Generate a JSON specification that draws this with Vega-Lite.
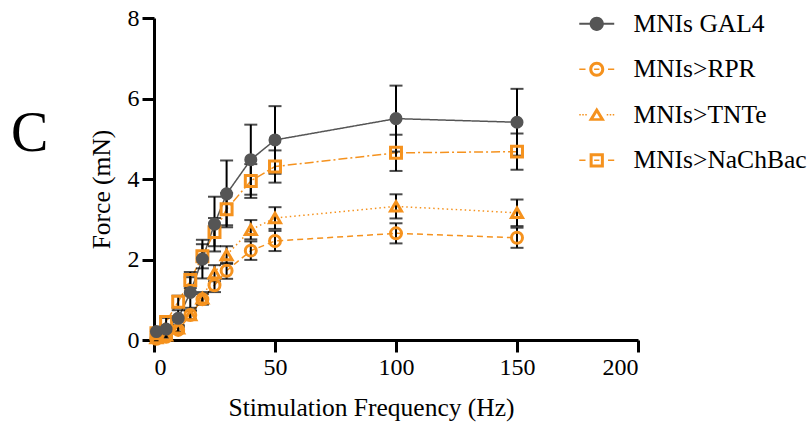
{
  "$schema": "https://vega.github.io/schema/vega-lite/v6.json",
  "autosize": "none",
  "width": 484,
  "height": 322,
  "padding": {"left": 154, "top": 18, "right": 173, "bottom": 87},
  "background": "white",
  "title": {"text": "C", "font": "Liberation Serif", "fontSize": 56, "fontWeight": "normal", "anchor": "start", "frame": "group", "offset": 0, "dx": -143, "dy": 201, "baseline": "alphabetic", "color": "black"},
  "config": {
    "font": "Liberation Serif",
    "view": {"stroke": null},
    "axis": {"domainColor": "black", "domainWidth": 3, "tickColor": "black", "tickWidth": 3, "tickSize": 12, "labelFont": "Liberation Serif", "labelFontSize": 24, "labelColor": "black", "titleFont": "Liberation Serif", "titleFontSize": 25.5, "titleFontWeight": "normal", "titleColor": "black", "grid": false, "labelPadding": 3},
    "legend": {"labelFont": "Liberation Serif", "labelFontSize": 25.5, "labelColor": "black", "labelLimit": 0}
  },
  "resolve": {"scale": {"shape": "independent", "fill": "independent"}},
  "data": {"values": [
    {"group": "MNIs>RPR", "hz": 1, "mean": 0.03, "lo": 0.01, "hi": 0.05},
    {"group": "MNIs>RPR", "hz": 5, "mean": 0.08, "lo": 0.05, "hi": 0.11},
    {"group": "MNIs>RPR", "hz": 10, "mean": 0.25, "lo": 0.19, "hi": 0.31},
    {"group": "MNIs>RPR", "hz": 15, "mean": 0.62, "lo": 0.52, "hi": 0.72},
    {"group": "MNIs>RPR", "hz": 20, "mean": 1.01, "lo": 0.88, "hi": 1.14},
    {"group": "MNIs>RPR", "hz": 25, "mean": 1.36, "lo": 1.19, "hi": 1.53},
    {"group": "MNIs>RPR", "hz": 30, "mean": 1.72, "lo": 1.52, "hi": 1.92},
    {"group": "MNIs>RPR", "hz": 40, "mean": 2.22, "lo": 1.99, "hi": 2.45},
    {"group": "MNIs>RPR", "hz": 50, "mean": 2.46, "lo": 2.21, "hi": 2.71},
    {"group": "MNIs>RPR", "hz": 100, "mean": 2.65, "lo": 2.40, "hi": 2.90},
    {"group": "MNIs>RPR", "hz": 150, "mean": 2.54, "lo": 2.29, "hi": 2.79},
    {"group": "MNIs>TNTe", "hz": 1, "mean": 0.05, "lo": 0.03, "hi": 0.07},
    {"group": "MNIs>TNTe", "hz": 5, "mean": 0.12, "lo": 0.08, "hi": 0.16},
    {"group": "MNIs>TNTe", "hz": 10, "mean": 0.29, "lo": 0.21, "hi": 0.37},
    {"group": "MNIs>TNTe", "hz": 15, "mean": 0.62, "lo": 0.50, "hi": 0.74},
    {"group": "MNIs>TNTe", "hz": 20, "mean": 1.04, "lo": 0.89, "hi": 1.19},
    {"group": "MNIs>TNTe", "hz": 25, "mean": 1.66, "lo": 1.46, "hi": 1.86},
    {"group": "MNIs>TNTe", "hz": 30, "mean": 2.11, "lo": 1.89, "hi": 2.33},
    {"group": "MNIs>TNTe", "hz": 40, "mean": 2.74, "lo": 2.50, "hi": 2.98},
    {"group": "MNIs>TNTe", "hz": 50, "mean": 3.03, "lo": 2.76, "hi": 3.30},
    {"group": "MNIs>TNTe", "hz": 100, "mean": 3.32, "lo": 3.02, "hi": 3.62},
    {"group": "MNIs>TNTe", "hz": 150, "mean": 3.16, "lo": 2.83, "hi": 3.49},
    {"group": "MNIs>NaChBac", "hz": 1, "mean": 0.17, "lo": 0.12, "hi": 0.22},
    {"group": "MNIs>NaChBac", "hz": 5, "mean": 0.45, "lo": 0.35, "hi": 0.55},
    {"group": "MNIs>NaChBac", "hz": 10, "mean": 0.95, "lo": 0.80, "hi": 1.10},
    {"group": "MNIs>NaChBac", "hz": 15, "mean": 1.49, "lo": 1.29, "hi": 1.69},
    {"group": "MNIs>NaChBac", "hz": 20, "mean": 2.08, "lo": 1.78, "hi": 2.38},
    {"group": "MNIs>NaChBac", "hz": 25, "mean": 2.68, "lo": 2.33, "hi": 3.03},
    {"group": "MNIs>NaChBac", "hz": 30, "mean": 3.25, "lo": 2.85, "hi": 3.65},
    {"group": "MNIs>NaChBac", "hz": 40, "mean": 3.95, "lo": 3.53, "hi": 4.37},
    {"group": "MNIs>NaChBac", "hz": 50, "mean": 4.31, "lo": 3.91, "hi": 4.71},
    {"group": "MNIs>NaChBac", "hz": 100, "mean": 4.65, "lo": 4.20, "hi": 5.10},
    {"group": "MNIs>NaChBac", "hz": 150, "mean": 4.68, "lo": 4.23, "hi": 5.13},
    {"group": "MNIs GAL4", "hz": 1, "mean": 0.21, "lo": 0.16, "hi": 0.26},
    {"group": "MNIs GAL4", "hz": 5, "mean": 0.27, "lo": 0.19, "hi": 0.35},
    {"group": "MNIs GAL4", "hz": 10, "mean": 0.54, "lo": 0.34, "hi": 0.74},
    {"group": "MNIs GAL4", "hz": 15, "mean": 1.18, "lo": 0.80, "hi": 1.56},
    {"group": "MNIs GAL4", "hz": 20, "mean": 2.01, "lo": 1.53, "hi": 2.49},
    {"group": "MNIs GAL4", "hz": 25, "mean": 2.88, "lo": 2.20, "hi": 3.56},
    {"group": "MNIs GAL4", "hz": 30, "mean": 3.63, "lo": 2.80, "hi": 4.46},
    {"group": "MNIs GAL4", "hz": 40, "mean": 4.48, "lo": 3.61, "hi": 5.35},
    {"group": "MNIs GAL4", "hz": 50, "mean": 4.97, "lo": 4.13, "hi": 5.81},
    {"group": "MNIs GAL4", "hz": 100, "mean": 5.50, "lo": 4.68, "hi": 6.32},
    {"group": "MNIs GAL4", "hz": 150, "mean": 5.41, "lo": 4.58, "hi": 6.24}
  ]},
  "encoding": {
    "x": {"field": "hz", "type": "quantitative", "scale": {"domain": [0, 200], "nice": false}, "axis": {"values": [0, 50, 100, 150, 200], "title": "Stimulation Frequency (Hz)", "titlePadding": 16, "titleX": 217}}
  },
  "layer": [
    {
      "mark": {"type": "line", "strokeWidth": 1.5},
      "encoding": {
        "y": {"field": "mean", "type": "quantitative", "scale": {"domain": [0, 8], "nice": false}, "axis": {"values": [0, 2, 4, 6, 8], "title": "Force (mN)", "titlePadding": 13, "titleY": 171}},
        "color": {"field": "group", "type": "nominal", "scale": {"range": ["#555555", "#F5921E", "#F5921E", "#F5921E"]}, "legend": null},
        "strokeDash": {"field": "group", "type": "nominal", "scale": {"range": [[1, 0], [9, 3, 2, 3], [6, 4], [1.5, 3]]}, "legend": null}
      }
    },
    {
      "mark": {"type": "rule", "color": "black", "strokeWidth": 2},
      "encoding": {
        "y": {"field": "lo", "type": "quantitative"},
        "y2": {"field": "hi"}
      }
    },
    {
      "mark": {"type": "tick", "orient": "horizontal", "color": "black", "size": 13, "thickness": 2},
      "encoding": {"y": {"field": "hi", "type": "quantitative"}}
    },
    {
      "mark": {"type": "tick", "orient": "horizontal", "color": "black", "size": 13, "thickness": 2},
      "encoding": {"y": {"field": "lo", "type": "quantitative"}}
    },
    {
      "mark": {"type": "point", "opacity": 1},
      "encoding": {
        "y": {"field": "mean", "type": "quantitative"},
        "shape": {"field": "group", "type": "nominal", "scale": {"range": ["circle", "square", "circle", "triangle-up"]}, "legend": null},
        "fill": {"field": "group", "type": "nominal", "scale": {"range": ["#555555", "transparent", "transparent", "transparent"]}, "legend": null},
        "stroke": {"field": "group", "type": "nominal", "scale": {"range": ["#555555", "#F5921E", "#F5921E", "#F5921E"]}, "legend": null},
        "strokeWidth": {"field": "group", "type": "nominal", "scale": {"type": "ordinal", "range": [0, 3, 3, 3]}, "legend": null},
        "size": {"field": "group", "type": "nominal", "scale": {"type": "ordinal", "range": [170, 120, 120, 120]}, "legend": null}
      }
    },
    {
      "transform": [{"filter": "false"}],
      "mark": {"type": "point", "filled": true, "opacity": 1, "strokeWidth": 0},
      "encoding": {
        "shape": {"field": "group", "type": "nominal",
          "scale": {"domain": ["MNIs GAL4", "MNIs>RPR", "MNIs>TNTe", "MNIs>NaChBac"], "range": [
            "M-2.33,-0.12H2.33V0.12H-2.33Z M-0.95,0A0.95,0.95 0 1,1 0.95,0A0.95,0.95 0 1,1 -0.95,0Z",
            "M-2.33,-0.1H-1.5V0.1H-2.33Z M1.5,-0.1H2.33V0.1H1.5Z M-0.35,-0.1H0.35V0.1H-0.35Z M-1,0A1,1 0 1,1 1,0A1,1 0 1,1 -1,0Z M-0.6,0A0.6,0.6 0 1,0 0.6,0A0.6,0.6 0 1,0 -0.6,0Z",
            "M-2.33,-0.1H-2.13V0.1H-2.33Z M-1.93,-0.1H-1.73V0.1H-1.93Z M-1.53,-0.1H-1.33V0.1H-1.53Z M2.13,-0.1H2.33V0.1H2.13Z M1.73,-0.1H1.93V0.1H1.73Z M1.33,-0.1H1.53V0.1H1.33Z M0,-1L1.1,0.8L-1.1,0.8Z M0,-0.25L-0.42,0.45L0.42,0.45Z",
            "M-2.33,-0.1H-1.5V0.1H-2.33Z M1.5,-0.1H2.33V0.1H1.5Z M-0.35,-0.1H0.35V0.1H-0.35Z M-0.95,-0.95H0.95V0.95H-0.95Z M-0.55,-0.55V0.55H0.55V-0.55Z"
          ]},
          "legend": {"orient": "none", "legendX": 430, "legendY": -7, "title": null, "symbolSize": 225, "labelOffset": 24, "rowPadding": 18.5, "padding": 0, "labelLimit": 0}
        },
        "fill": {"field": "group", "type": "nominal",
          "scale": {"domain": ["MNIs GAL4", "MNIs>RPR", "MNIs>TNTe", "MNIs>NaChBac"], "range": ["#555555", "#F5921E", "#F5921E", "#F5921E"]},
          "legend": {"orient": "none", "legendX": 430, "legendY": -7, "title": null, "symbolSize": 225, "labelOffset": 24, "rowPadding": 18.5, "padding": 0, "labelLimit": 0}
        }
      }
    }
  ]
}
